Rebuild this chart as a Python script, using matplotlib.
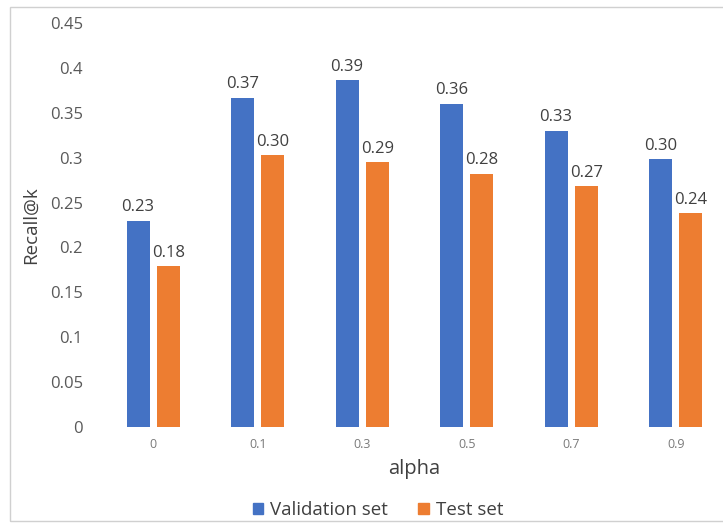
import matplotlib
matplotlib.use("Agg")
import matplotlib.pyplot as plt
from matplotlib.patches import Rectangle, Patch
import numpy as np

categories = ["0", "0.1", "0.3", "0.5", "0.7", "0.9"]
validation = [0.23, 0.367, 0.386, 0.36, 0.33, 0.298]
test = [0.179, 0.303, 0.295, 0.282, 0.268, 0.238]
val_labels = ["0.23", "0.37", "0.39", "0.36", "0.33", "0.30"]
test_labels = ["0.18", "0.30", "0.29", "0.28", "0.27", "0.24"]
yticks = [0, 0.05, 0.1, 0.15, 0.2, 0.25, 0.3, 0.35, 0.4, 0.45]
ytick_labels = ["0", "0.05", "0.1", "0.15", "0.2", "0.25", "0.3", "0.35", "0.4", "0.45"]

plt.rcParams['font.family'] = ['Open Sans', 'DejaVu Sans']

W, H = 723, 525
fig = plt.figure(figsize=(W / 100, H / 100), dpi=100)
fig.patches.append(Rectangle((10 / W, 1 - 521 / H), 1, (521 - 7) / H,
                             transform=fig.transFigure, fill=False,
                             edgecolor="#d0d0d0", linewidth=1.0))

left, right = 101, 728
top, bottom = 23, 427
ax = fig.add_axes([left / W, 1 - bottom / H, (right - left) / W, (bottom - top) / H])

blue = "#4472C4"
orange = "#ED7D31"
x = np.arange(len(categories))
w = 0.22
off = 0.145
ax.bar(x - off, validation, w, color=blue, label="Validation set")
ax.bar(x + off, test, w, color=orange, label="Test set")

for xi, v, lab in zip(x, validation, val_labels):
    ax.text(xi - off, v + 0.006, lab, ha="center", va="bottom", fontsize=12, color="#404040")
for xi, v, lab in zip(x, test, test_labels):
    ax.text(xi + off, v + 0.006, lab, ha="center", va="bottom", fontsize=12, color="#404040")

ax.set_xlim(-0.5, len(categories) - 0.5)
ax.set_ylim(0, 0.45)
ax.set_yticks(yticks)
ax.set_yticklabels(ytick_labels, fontsize=12, color="#595959")
ax.set_xticks(x)
ax.set_xticklabels(categories, fontsize=9, color="#7a7a7a")
ax.tick_params(axis="both", length=0)
ax.tick_params(axis="y", pad=13)
ax.tick_params(axis="x", pad=8)
for s in ax.spines.values():
    s.set_visible(False)

ax.set_ylabel("Recall@k", fontsize=13.5, color="#404040")
ax.yaxis.set_label_coords(-61 / (right - left), 0.5)
ax.set_xlabel("alpha", fontsize=14.5, color="#404040")
ax.xaxis.set_label_coords(0.5, -32 / (bottom - top))

handles = [Patch(color=blue), Patch(color=orange)]
fig.legend(handles, ["Validation set", "Test set"], loc="center",
           bbox_to_anchor=(378 / W, 1 - 510 / H), ncol=2, frameon=False,
           fontsize=13.5, handlelength=0.55, handleheight=0.55, handletextpad=0.4,
           columnspacing=1.6, labelcolor="#404040")

fig.savefig("out.png", dpi=100)
